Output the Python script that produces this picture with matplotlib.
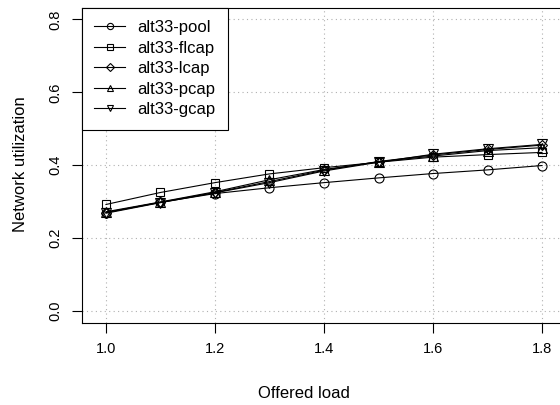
import matplotlib
matplotlib.use("Agg")
import matplotlib.pyplot as plt

plt.rcParams['font.family'] = ['Liberation Sans', 'DejaVu Sans']

# Offered load on the x axis
load = [1.0, 1.1, 1.2, 1.3, 1.4, 1.5, 1.6, 1.7, 1.8]

pool = [0.270, 0.298, 0.322, 0.338, 0.352, 0.365, 0.377, 0.387, 0.399]
flcap = [0.292, 0.325, 0.352, 0.376, 0.393, 0.408, 0.422, 0.429, 0.435]
lcap = [0.270, 0.298, 0.325, 0.355, 0.386, 0.410, 0.428, 0.443, 0.455]
pcap = [0.272, 0.299, 0.327, 0.360, 0.388, 0.409, 0.425, 0.440, 0.448]
gcap = [0.268, 0.297, 0.324, 0.352, 0.384, 0.408, 0.430, 0.445, 0.457]

labels = ["alt33-pool", "alt33-flcap", "alt33-lcap", "alt33-pcap", "alt33-gcap"]
markers = ["o", "s", "D", "^", "v"]
sizes = [6.5, 5.5, 5.5, 6.5, 6.5]

fig = plt.figure(figsize=(5.6, 4.05), dpi=100)
# plot region runs off the right side of the picture, as in the original
ax = fig.add_axes([0.1464, 0.2037, 1.059, 0.777])

for ys, lab, m, ms in zip([pool, flcap, lcap, pcap, gcap], labels, markers, sizes):
    ax.plot(load, ys, color="black", lw=0.8, marker=m, ms=ms,
            mfc="none", mec="black", mew=0.8, label=lab)

ax.set_xlim(0.956, 2.044)
ax.set_ylim(-0.032, 0.832)
ax.set_xticks([1.0, 1.2, 1.4, 1.6, 1.8])
ax.set_yticks([0.0, 0.2, 0.4, 0.6, 0.8])
ax.set_xticklabels(["1.0", "1.2", "1.4", "1.6", "1.8"])
ax.set_yticklabels(["0.0", "0.2", "0.4", "0.6", "0.8"], rotation=90, va="center")
ax.tick_params(direction="out", length=7, width=0.8, labelsize=10.5, pad=7)
ax.grid(True, color="#b0b0b0", linestyle=(0, (1, 3)), lw=0.8)
for s in ax.spines.values():
    s.set_linewidth(0.8)

# axis titles, placed where the original has them
fig.text(304 / 560, 1 - 393 / 405, "Offered load", fontsize=12,
         ha="center", va="center")
fig.text(21 / 560, 1 - 164 / 405, "Network utilization", fontsize=12,
         ha="center", va="center", rotation=90)

leg = ax.legend(loc="upper left", bbox_to_anchor=(0, 1), borderaxespad=0,
                fancybox=False, framealpha=1, edgecolor="black",
                fontsize=12, handlelength=1.85, handletextpad=0.7,
                labelspacing=0.33, borderpad=0.75)
leg.get_frame().set_linewidth(0.8)
# legend symbols are drawn smaller than the plot markers
for h in leg.legend_handles:
    h.set_markersize(4.5)

fig.savefig("out.png", dpi=100)
